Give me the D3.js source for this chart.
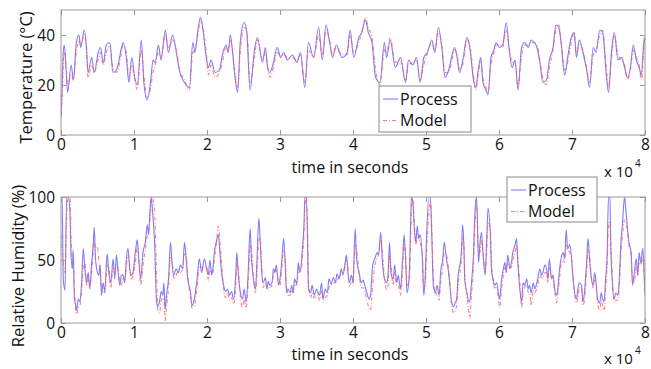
<!DOCTYPE html>
<html><head><meta charset="utf-8">
<script src="https://cdn.jsdelivr.net/npm/d3@7"></script>
<style>
body{margin:0;background:#fff;}
svg{display:block;font-family:"Open Sans",sans-serif;}
</style></head>
<body><svg id="c" width="651" height="369"></svg>
<script>
// time axis values are in units of 10^4 s
const xTicks = [0,1,2,3,4,5,6,7,8];
const tempTicks = [0,20,40];
const rhTicks = [0,50,100];
const seriesNames = ["Process","Model"];

const tempTime = [0.00,0.02,0.03,0.045,0.07,0.09,0.14,0.17,0.21,0.245,0.27,0.32,0.35,0.37,0.42,0.455,0.51,0.54,0.58,0.62,0.67,0.71,0.76,0.83,0.85,0.895,0.93,0.97,1.01,1.045,1.10,1.135,1.18,1.23,1.26,1.29,1.335,1.37,1.43,1.47,1.53,1.58,1.62,1.69,1.76,1.805,1.835,1.875,1.91,1.94,1.99,2.02,2.055,2.11,2.17,2.21,2.26,2.29,2.32,2.35,2.38,2.42,2.455,2.51,2.545,2.59,2.65,2.69,2.76,2.80,2.83,2.86,2.91,2.96,3.01,3.05,3.10,3.17,3.23,3.28,3.34,3.39,3.46,3.53,3.58,3.63,3.68,3.72,3.77,3.85,3.92,3.96,4.01,4.08,4.12,4.17,4.21,4.26,4.31,4.37,4.43,4.46,4.51,4.58,4.65,4.72,4.76,4.82,4.87,4.92,4.97,5.02,5.08,5.12,5.17,5.22,5.26,5.31,5.35,5.39,5.42,5.46,5.51,5.56,5.60,5.65,5.68,5.72,5.75,5.78,5.82,5.85,5.89,5.93,5.96,6.01,6.05,6.10,6.14,6.18,6.22,6.26,6.31,6.35,6.40,6.44,6.48,6.52,6.56,6.60,6.65,6.69,6.74,6.78,6.82,6.85,6.90,6.94,6.99,7.03,7.06,7.10,7.15,7.20,7.24,7.29,7.33,7.38,7.42,7.47,7.50,7.54,7.58,7.63,7.68,7.72,7.76,7.80,7.84,7.88,7.92,7.95,7.99,8.00];
const tempProcess = [7,23,33,36,26,17,28,22,37,40,35,42,34,25,31,25,33,35,29,36,37,25,26,35,37,31,21,31,23,20,38,21,14,22,30,29,36,30,42,33,40,33,26,21,19,37,33,42,47,43,31,27,30,25,26,32,36,33,40,33,24,17,37,45,41,18,34,39,29,35,27,25,29,35,31,33,30,32,29,33,19,37,31,43,30,44,37,31,36,31,33,42,31,39,41,46,41,37,23,21,37,31,38,27,31,21,30,28,31,21,31,33,38,33,43,34,23,26,31,35,32,25,31,39,35,22,19,27,31,21,18,16,31,34,37,35,36,45,34,27,30,18,35,37,35,38,37,35,29,21,22,30,35,44,43,37,24,31,39,41,31,38,33,26,19,35,33,42,41,24,17,33,41,30,31,27,23,27,36,30,27,24,39,37];
const tempModel = [8,18,28,33,28,20,24,22,33,38,36,40,36,23,28,25,30,33,28,33,36,27,25,33,36,33,23,28,22,18,34,24,15,19,25,28,33,31,40,35,38,34,27,22,18,33,34,40,46,44,33,24,28,23,25,29,35,34,38,34,26,19,33,43,42,21,31,38,30,33,28,23,27,33,32,32,31,31,30,32,21,34,31,40,32,42,38,32,35,32,32,40,33,37,41,47,43,39,26,20,34,33,39,29,30,22,28,29,30,22,28,33,37,34,41,35,25,25,29,34,33,26,29,38,36,24,18,25,30,23,19,17,28,33,36,36,35,42,35,29,29,20,32,36,36,37,37,36,30,23,20,27,34,42,44,38,26,29,37,41,33,36,34,27,21,32,34,40,42,27,19,30,40,32,30,28,22,26,34,31,28,22,36,38];

const rhTime = [0.000,0.015,0.032,0.055,0.077,0.100,0.123,0.136,0.155,0.168,0.182,0.200,0.214,0.236,0.259,0.282,0.305,0.327,0.350,0.373,0.395,0.418,0.441,0.455,0.473,0.500,0.518,0.536,0.555,0.577,0.600,0.632,0.655,0.682,0.714,0.736,0.759,0.782,0.805,0.827,0.850,0.873,0.895,0.918,0.941,0.964,0.986,1.018,1.045,1.064,1.091,1.123,1.155,1.182,1.200,1.218,1.236,1.255,1.282,1.309,1.327,1.350,1.373,1.395,1.409,1.427,1.445,1.473,1.500,1.523,1.545,1.577,1.609,1.636,1.668,1.691,1.714,1.736,1.773,1.795,1.827,1.864,1.895,1.927,1.964,1.995,2.018,2.041,2.064,2.082,2.100,2.127,2.155,2.173,2.200,2.227,2.255,2.282,2.309,2.336,2.364,2.391,2.409,2.427,2.455,2.486,2.509,2.536,2.564,2.591,2.609,2.636,2.664,2.68,2.71,2.73,2.75,2.77,2.80,2.82,2.84,2.86,2.89,2.91,2.93,2.95,2.98,3.00,3.02,3.05,3.07,3.09,3.11,3.14,3.16,3.18,3.20,3.23,3.25,3.27,3.29,3.31,3.33,3.34,3.36,3.38,3.39,3.42,3.44,3.47,3.50,3.52,3.54,3.57,3.59,3.62,3.65,3.67,3.70,3.73,3.76,3.78,3.81,3.84,3.86,3.89,3.91,3.93,3.95,3.98,4.00,4.03,4.05,4.09,4.11,4.14,4.16,4.19,4.22,4.24,4.27,4.30,4.33,4.35,4.38,4.40,4.43,4.46,4.48,4.50,4.52,4.55,4.57,4.60,4.62,4.65,4.68,4.70,4.72,4.74,4.77,4.79,4.80,4.82,4.84,4.86,4.88,4.90,4.92,4.95,4.97,4.99,5.01,5.04,5.06,5.08,5.10,5.13,5.15,5.18,5.20,5.23,5.25,5.28,5.31,5.33,5.35,5.38,5.40,5.42,5.44,5.47,5.49,5.50,5.52,5.53,5.56,5.58,5.60,5.62,5.65,5.67,5.69,5.70,5.72,5.74,5.76,5.78,5.81,5.83,5.85,5.88,5.90,5.92,5.94,5.97,5.99,6.01,6.03,6.06,6.08,6.10,6.12,6.15,6.17,6.19,6.22,6.24,6.26,6.29,6.31,6.33,6.35,6.38,6.40,6.42,6.44,6.47,6.49,6.51,6.53,6.56,6.58,6.60,6.63,6.65,6.67,6.69,6.72,6.74,6.77,6.79,6.81,6.83,6.85,6.88,6.90,6.92,6.94,6.97,6.99,7.01,7.03,7.06,7.08,7.10,7.13,7.15,7.17,7.20,7.22,7.24,7.26,7.29,7.31,7.33,7.35,7.38,7.40,7.42,7.44,7.46,7.48,7.50,7.52,7.53,7.55,7.58,7.60,7.63,7.65,7.67,7.69,7.72,7.74,7.76,7.78,7.81,7.83,7.85,7.88,7.90,7.92,7.94,7.97,7.99,8.00];
const rhProcess = [100,100,34,26,100,100,88,56,43,58,22,14,10,19,17,32,59,43,32,40,27,46,62,76,51,40,38,46,22,32,25,55,40,32,51,35,54,40,30,38,38,32,51,59,43,38,40,56,66,51,35,56,64,78,70,88,100,88,64,17,13,17,25,22,32,11,22,35,64,46,38,43,40,46,43,64,51,35,25,14,19,35,51,40,51,43,38,50,38,44,56,64,70,59,40,30,25,27,22,25,19,35,56,40,25,19,27,17,40,75,51,35,27,43,83,64,40,32,36,27,33,30,32,43,40,46,30,35,46,67,48,24,27,24,30,24,35,31,48,40,46,62,80,100,100,56,27,24,30,22,27,24,22,32,19,27,24,35,31,36,32,39,35,43,38,47,54,40,32,38,32,75,51,38,32,34,30,24,19,22,46,51,56,54,72,51,35,32,38,64,40,35,46,32,38,27,51,70,51,24,38,80,100,96,75,64,77,67,70,51,22,38,72,100,100,67,30,24,30,22,40,51,64,51,40,28,17,13,16,19,38,48,62,78,59,35,24,18,17,30,54,88,100,88,48,64,72,56,38,64,91,72,40,35,30,32,24,19,32,43,48,40,54,43,48,56,62,67,46,24,17,32,30,35,27,30,24,32,27,30,35,43,38,40,46,43,35,51,35,38,24,22,30,43,51,56,51,74,59,62,54,38,27,19,27,32,30,17,24,48,67,51,38,30,40,32,19,16,24,19,17,35,51,100,100,64,35,19,24,22,38,64,78,100,88,75,64,56,30,38,51,38,56,48,59,35,22];
const rhModel = [70,55,48,40,85,100,100,70,52,50,30,12,7,12,14,25,45,48,30,35,30,38,55,65,58,60,50,40,28,26,24,46,45,28,44,40,46,44,32,30,36,34,44,54,46,34,38,48,60,55,30,46,58,70,72,82,95,100,88,40,10,8,18,20,18,2,12,28,52,50,35,38,42,40,44,55,54,38,20,12,14,28,44,44,45,45,34,42,40,40,50,62,77,68,48,28,20,24,18,20,15,26,48,44,22,12,20,12,30,62,58,38,24,34,66,68,46,28,32,28,26,28,30,38,42,42,32,30,40,58,52,28,22,22,26,24,30,30,42,44,42,54,72,92,100,70,35,20,24,20,22,22,18,26,18,20,22,28,30,32,32,34,36,40,40,44,50,44,30,32,30,62,58,36,28,28,26,18,12,10,30,46,52,54,66,58,36,26,30,54,46,30,40,30,30,22,42,62,56,30,32,66,90,98,80,62,68,70,64,54,28,30,58,86,96,76,38,22,24,18,32,44,56,54,42,30,14,8,10,14,30,42,54,68,62,40,22,12,4,20,44,76,94,90,56,56,66,58,40,54,80,76,46,32,28,28,20,12,24,38,44,42,48,44,44,50,56,62,50,28,12,24,28,30,24,24,14,26,24,26,30,38,36,36,40,40,32,44,36,34,22,16,24,36,46,50,48,62,58,56,52,40,26,16,20,28,28,14,18,40,58,54,40,28,34,30,16,10,18,14,10,26,44,78,80,66,40,16,18,18,30,54,68,82,80,72,62,52,32,32,44,38,48,46,52,38,26];

const svg = d3.select("#c");
const x0 = 61, x1 = 645;
const panels = [
  {top:10, bottom:135, domain:[0,50], ticks:tempTicks, time:tempTime, proc:tempProcess, model:tempModel,
   ylabel:"Temperature (°C)", ylx:32, xlabBase:172.5, tickBase:150, mulBase:177,
   legend:{x:379,y:86,w:92,h:46}},
  {top:197, bottom:323, domain:[0,100], ticks:rhTicks, time:rhTime, proc:rhProcess, model:rhModel,
   ylabel:"Relative Humidity (%)", ylx:24, xlabBase:359.5, tickBase:337.5, mulBase:364,
   legend:{x:507,y:177,w:90,h:45}}
];
const x = d3.scaleLinear().domain([0,8]).range([x0,x1]);
const frameCol = "#9a9a9a";
const procCol = "#5b5bff";
const modelCol = "#ff5a5a";

panels.forEach((p,i)=>{
  const y = d3.scaleLinear().domain(p.domain).range([p.bottom,p.top]);
  const g = svg.append("g");
  const cid = "clip"+i;
  svg.append("clipPath").attr("id",cid).append("rect")
    .attr("x",x0).attr("y",p.top).attr("width",x1-x0).attr("height",p.bottom-p.top);
  g.append("rect").attr("x",x0).attr("y",p.top).attr("width",x1-x0).attr("height",p.bottom-p.top)
    .attr("fill","#fff");
  const line = d3.line().curve(d3.curveMonotoneX).x((d,j)=>x(p.time[j])).y(d=>y(d));
  g.append("path").datum(p.proc).attr("d",line).attr("clip-path",`url(#${cid})`)
    .attr("fill","none").attr("stroke",procCol).attr("stroke-width",1.1).attr("stroke-opacity",0.8);
  g.append("path").datum(p.model).attr("d",line).attr("clip-path",`url(#${cid})`)
    .attr("fill","none").attr("stroke",modelCol).attr("stroke-width",1.1).attr("stroke-opacity",0.75)
    .attr("stroke-dasharray","4,2,1,2");

  const ax = [
    g.append("g").attr("transform",`translate(0,${p.bottom})`).call(d3.axisBottom(x).tickValues(xTicks).tickSize(-5).tickPadding(5).tickFormat(d3.format("d"))),
    g.append("g").attr("transform",`translate(0,${p.top})`).call(d3.axisTop(x).tickValues(xTicks).tickSize(-5).tickFormat("")),
    g.append("g").attr("transform",`translate(${x0},0)`).call(d3.axisLeft(y).tickValues(p.ticks).tickSize(-5).tickPadding(6).tickFormat(d3.format("d"))),
    g.append("g").attr("transform",`translate(${x1},0)`).call(d3.axisRight(y).tickValues(p.ticks).tickSize(-5).tickFormat(""))
  ];
  ax.forEach(a=>{
    a.select(".domain").remove();
    a.selectAll(".tick line").attr("stroke",frameCol);
    a.selectAll(".tick text").attr("fill","#111").style("font-size","15.5px").style("font-family","'Open Sans',sans-serif");
  });
  ax[0].selectAll(".tick text").attr("dy",null).attr("y",p.tickBase-p.bottom);
  ax[2].selectAll(".tick text").attr("x",-6).attr("dy","0.36em");
  g.append("rect").attr("x",x0).attr("y",p.top).attr("width",x1-x0).attr("height",p.bottom-p.top)
    .attr("fill","none").attr("stroke",frameCol).attr("stroke-width",1);

  g.append("text").attr("x",350).attr("y",p.xlabBase).attr("text-anchor","middle")
    .style("font-size","16px").attr("fill","#111").text("time in seconds");
  g.append("text").attr("transform",`translate(${p.ylx},${(p.top+p.bottom)/2+ (i===0?5:6)}) rotate(-90)`)
    .attr("text-anchor","middle").style("font-size","16.5px").attr("fill","#111").text(p.ylabel);
  const mul = g.append("text").attr("x",604).attr("y",p.mulBase).style("font-size","15px").attr("fill","#111");
  mul.append("tspan").text("x 10");
  mul.append("tspan").attr("dy",-10).attr("dx",2).style("font-size","10px").text("4");

  const L = p.legend;
  const lg = g.append("g");
  lg.append("rect").attr("x",L.x).attr("y",L.y).attr("width",L.w).attr("height",L.h)
    .attr("fill","#fff").attr("stroke","#888").attr("stroke-width",1);
  const rows = [{c:procCol,dash:null,op:0.85},{c:modelCol,dash:"4,2,1,2",op:0.8}];
  rows.forEach((r,k)=>{
    const ly = L.y + 13 + k*21.5;
    lg.append("line").attr("x1",L.x+4).attr("x2",L.x+19).attr("y1",ly).attr("y2",ly)
      .attr("stroke",r.c).attr("stroke-opacity",r.op).attr("stroke-dasharray",r.dash);
    lg.append("text").attr("x",L.x+21).attr("y",ly+5.5).style("font-size","16px").attr("fill","#111").text(seriesNames[k]);
  });
});
</script></body></html>
